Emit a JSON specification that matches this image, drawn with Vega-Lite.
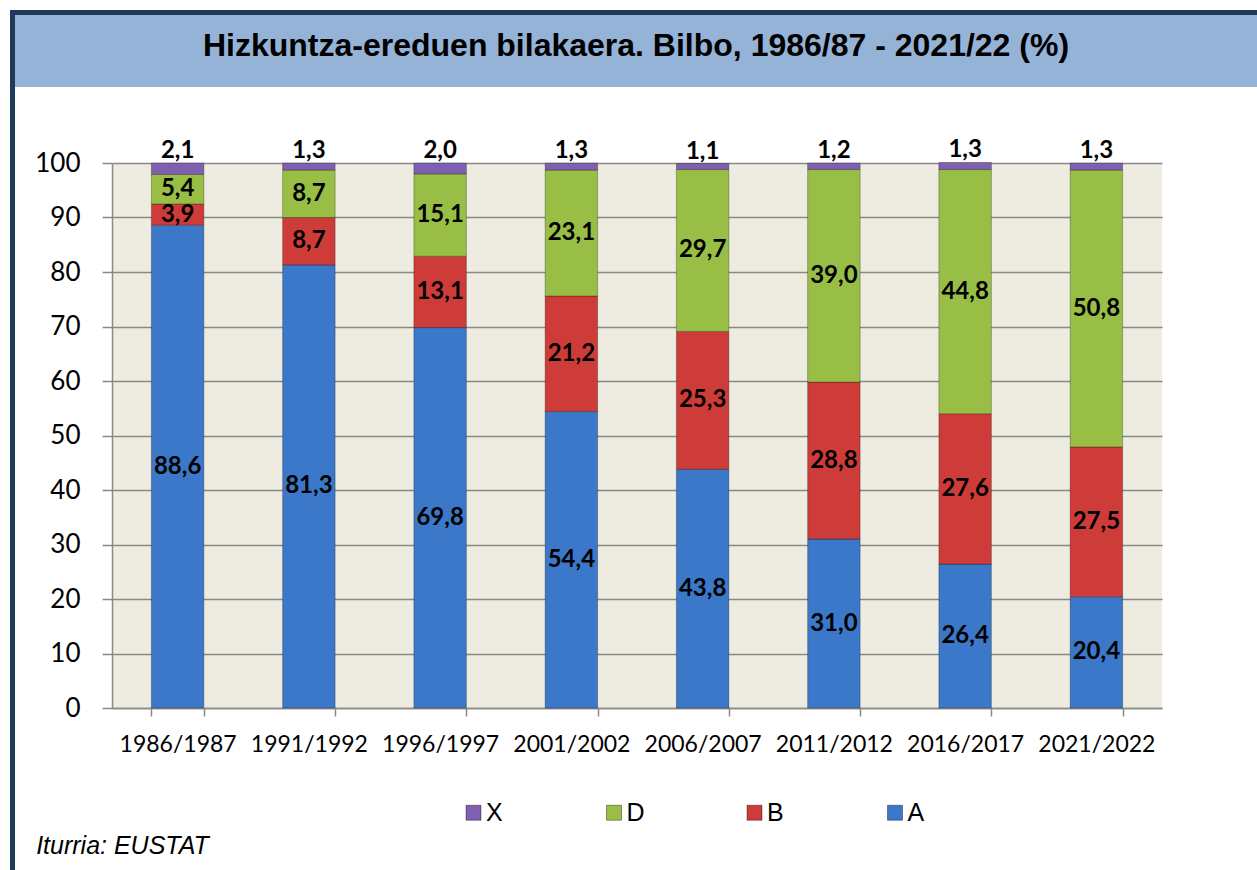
{
  "$schema": "https://vega.github.io/schema/vega-lite/v6.json",
  "padding": {"left": 10, "top": 10, "right": 0, "bottom": 0},
  "background": "white",
  "config": {
    "locale": {"number": {"decimal": ",", "thousands": ".", "grouping": [3], "currency": ["", " €"]}},
    "concat": {"spacing": 0},
    "view": {"stroke": null},
    "font": "Lato"
  },
  "datasets": {
    "main": [
      {"period": "1986/1987", "model": "A", "value": 88.6},
      {"period": "1986/1987", "model": "B", "value": 3.9},
      {"period": "1986/1987", "model": "D", "value": 5.4},
      {"period": "1986/1987", "model": "X", "value": 2.1},
      {"period": "1991/1992", "model": "A", "value": 81.3},
      {"period": "1991/1992", "model": "B", "value": 8.7},
      {"period": "1991/1992", "model": "D", "value": 8.7},
      {"period": "1991/1992", "model": "X", "value": 1.3},
      {"period": "1996/1997", "model": "A", "value": 69.8},
      {"period": "1996/1997", "model": "B", "value": 13.1},
      {"period": "1996/1997", "model": "D", "value": 15.1},
      {"period": "1996/1997", "model": "X", "value": 2.0},
      {"period": "2001/2002", "model": "A", "value": 54.4},
      {"period": "2001/2002", "model": "B", "value": 21.2},
      {"period": "2001/2002", "model": "D", "value": 23.1},
      {"period": "2001/2002", "model": "X", "value": 1.3},
      {"period": "2006/2007", "model": "A", "value": 43.8},
      {"period": "2006/2007", "model": "B", "value": 25.3},
      {"period": "2006/2007", "model": "D", "value": 29.7},
      {"period": "2006/2007", "model": "X", "value": 1.1},
      {"period": "2011/2012", "model": "A", "value": 31.0},
      {"period": "2011/2012", "model": "B", "value": 28.8},
      {"period": "2011/2012", "model": "D", "value": 39.0},
      {"period": "2011/2012", "model": "X", "value": 1.2},
      {"period": "2016/2017", "model": "A", "value": 26.4},
      {"period": "2016/2017", "model": "B", "value": 27.6},
      {"period": "2016/2017", "model": "D", "value": 44.8},
      {"period": "2016/2017", "model": "X", "value": 1.3},
      {"period": "2021/2022", "model": "A", "value": 20.4},
      {"period": "2021/2022", "model": "B", "value": 27.5},
      {"period": "2021/2022", "model": "D", "value": 50.8},
      {"period": "2021/2022", "model": "X", "value": 1.3}
    ]
  },
  "spacing": 0,
  "vconcat": [
    {
      "width": 1247, "height": 5,
      "view": {"fill": "#1F3A5C", "stroke": null},
      "data": {"values": [{}]},
      "mark": {"type": "text", "text": "", "fontSize": 1}
    },
    {
      "spacing": 0,
      "hconcat": [
        {
          "width": 5, "height": 72,
          "view": {"fill": "#1F3A5C", "stroke": null},
          "data": {"values": [{}]},
          "mark": {"type": "text", "text": "", "fontSize": 1}
        },
        {
          "width": 1242, "height": 72,
          "view": {"fill": "#95B3D7", "stroke": null},
          "data": {"values": [{"t": "Hizkuntza-ereduen bilakaera. Bilbo, 1986/87 - 2021/22 (%)"}]},
          "mark": {"type": "text", "font": "Liberation Sans", "fontWeight": "bold", "fontSize": 32, "align": "center", "baseline": "middle", "dy": -5, "color": "black"},
          "encoding": {"text": {"field": "t", "type": "nominal"}}
        }
      ]
    },
    {
      "spacing": 0,
      "hconcat": [
        {
          "width": 5, "height": 680,
          "view": {"fill": "#1F3A5C", "stroke": null},
          "data": {"values": [{}]},
          "mark": {"type": "text", "text": "", "fontSize": 1}
        },
        {
          "spacing": 0,
          "vconcat": [
            {
              "width": 10, "height": 51,
              "data": {"values": [{}]},
              "mark": {"type": "text", "text": "", "fontSize": 1}
            },
            {
              "width": 1050, "height": 545,
              "view": {"fill": "#EEECE1", "stroke": null},
              "data": {"name": "main"},
              "encoding": {
                "x": {
                  "field": "period", "type": "nominal", "sort": null,
                  "scale": {"paddingInner": 0.6, "paddingOuter": 0.3},
                  "axis": {
                    "title": null, "labelAngle": 0, "labelFont": "Lato", "labelFontSize": 23, "labelColor": "black",
                    "labelPadding": 17, "tickBand": "extent", "tickSize": 8, "tickColor": "#898989", "tickWidth": 1.5,
                    "domainColor": "#898989", "domainWidth": 1.5, "grid": false
                  }
                }
              },
              "layer": [
                {
                  "mark": {"type": "bar", "stroke": "#00000045", "strokeWidth": 1},
                  "encoding": {
                    "y": {
                      "field": "value", "type": "quantitative", "stack": "zero",
                      "scale": {"domain": [0, 100], "nice": false},
                      "axis": {
                        "title": "%", "titleOpacity": 0, "titleFontSize": 11, "titlePadding": 8, "minExtent": 78,
                        "values": [0, 10, 20, 30, 40, 50, 60, 70, 80, 90, 100],
                        "labelFont": "Lato", "labelFontSize": 26, "labelColor": "black", "labelPadding": 22,
                        "tickSize": 10, "tickColor": "#898989", "tickWidth": 1.5,
                        "domainColor": "#898989", "domainWidth": 1.5,
                        "grid": true, "gridColor": "#898989", "gridWidth": 1.5
                      }
                    },
                    "color": {
                      "field": "model", "type": "nominal",
                      "scale": {"domain": ["X", "D", "B", "A"], "range": ["#7E5FB0", "#98BE46", "#CD3C38", "#3B78C9"]},
                      "legend": {
                        "title": null, "orient": "none", "legendX": 451, "legendY": 790,
                        "direction": "horizontal", "columns": 4, "columnPadding": 96.5, "gridAlign": "all",
                        "symbolType": "square", "symbolSize": 225, "symbolStrokeWidth": 1, "symbolStrokeColor": "#00000060",
                        "labelFont": "Liberation Sans", "labelFontSize": 25, "labelColor": "black", "labelOffset": 0, "padding": 0
                      }
                    },
                    "order": {"field": "model", "sort": "ascending"}
                  }
                },
                {
                  "mark": {"type": "text", "font": "Lato", "fontWeight": "bold", "fontSize": 24, "baseline": "middle", "align": "center", "color": "black"},
                  "encoding": {
                    "y": {"field": "value", "type": "quantitative", "stack": "zero", "bandPosition": 0.5},
                    "detail": {"field": "model", "type": "nominal"},
                    "order": {"field": "model", "sort": "ascending"},
                    "text": {"field": "value", "type": "quantitative", "format": ".1f", "condition": {"test": "datum.model === 'X'", "value": ""}}
                  }
                },
                {
                  "mark": {"type": "text", "font": "Lato", "fontWeight": "bold", "fontSize": 24, "baseline": "alphabetic", "align": "center", "dy": -5, "color": "black"},
                  "encoding": {
                    "y": {"field": "value", "type": "quantitative", "stack": "zero"},
                    "detail": {"field": "model", "type": "nominal"},
                    "order": {"field": "model", "sort": "ascending"},
                    "text": {"field": "value", "type": "quantitative", "format": ".1f", "condition": {"test": "datum.model !== 'X'", "value": ""}}
                  }
                }
              ]
            }
          ]
        }
      ]
    },
    {
      "spacing": 0,
      "hconcat": [
        {
          "width": 5, "height": 103,
          "view": {"fill": "#1F3A5C", "stroke": null},
          "data": {"values": [{}]},
          "mark": {"type": "text", "text": "", "fontSize": 1}
        },
        {
          "width": 215, "height": 103,
          "data": {"values": [{"s": "Iturria: EUSTAT"}]},
          "mark": {"type": "text", "font": "Liberation Sans", "fontStyle": "italic", "fontSize": 25, "align": "center", "baseline": "middle", "dy": 27, "color": "black"},
          "encoding": {"text": {"field": "s", "type": "nominal"}}
        }
      ]
    }
  ]
}
